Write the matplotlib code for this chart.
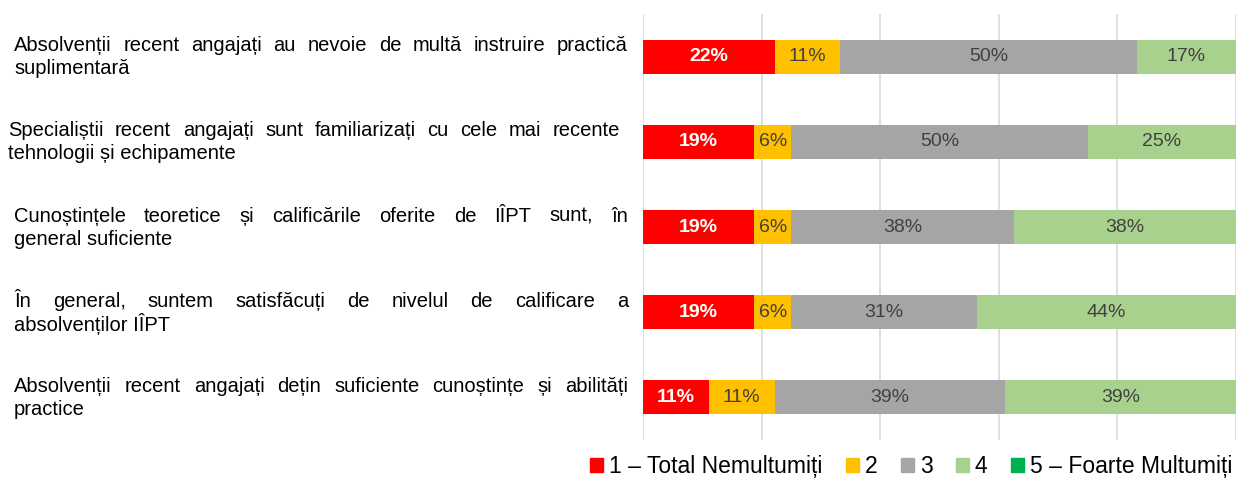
import matplotlib.pyplot as plt
from matplotlib.patches import Patch

plt.rcParams['font.family'] = ['Liberation Sans', 'DejaVu Sans']

# data (share of respondents per answer, %)
statements = [
    ["Absolvenții recent angajați au nevoie de multă instruire practică", "suplimentară"],
    ["Specialiștii recent angajați sunt familiarizați cu cele mai recente", "tehnologii și echipamente"],
    ["Cunoștințele teoretice și calificările oferite de IÎPT sunt, în", "general suficiente"],
    ["În general, suntem satisfăcuți de nivelul de calificare a", "absolvenților IÎPT"],
    ["Absolvenții recent angajați dețin suficiente cunoștințe și abilități", "practice"],
]
r1 = [22.2, 18.75, 18.75, 18.75, 11.1]
r2 = [11.1, 6.25, 6.25, 6.25, 11.1]
r3 = [50.0, 50.0, 37.5, 31.25, 38.9]
r4 = [16.7, 25.0, 37.5, 43.75, 38.9]
r5 = [0, 0, 0, 0, 0]
series = [r1, r2, r3, r4, r5]
names = ["1 – Total Nemultumiți", "2", "3", "4", "5 – Foarte Multumiți"]
colors = ["#FF0000", "#FFC000", "#A5A5A5", "#A9D18E", "#00B050"]

W, H = 1236, 486
fig = plt.figure(figsize=(W / 100, H / 100), dpi=100)
ax = fig.add_axes([643 / W, 1 - 440 / H, (W - 643) / W, 426 / H])

ypos = list(range(len(statements)))
left = [0] * len(statements)
for k, vals in enumerate(series):
    ax.barh(ypos, vals, left=left, height=0.4, color=colors[k], zorder=2)
    for i, v in enumerate(vals):
        if v > 0:
            if k == 0:
                ax.text(left[i] + v / 2, i, f"{v:.0f}%", ha='center', va='center',
                        color='white', fontweight='bold', fontsize=14, zorder=3)
            else:
                ax.text(left[i] + v / 2, i, f"{v:.0f}%", ha='center', va='center',
                        color='#404040', fontsize=14, zorder=3)
    left = [a + b for a, b in zip(left, vals)]

ax.set_xlim(0, 100)
ax.set_ylim(4.5, -0.5)
ax.set_xticks([0, 20, 40, 60, 80, 100])
ax.xaxis.grid(True, color='#D9D9D9', linewidth=1.2, zorder=0)
ax.tick_params(left=False, bottom=False, labelleft=False, labelbottom=False)
for s in ax.spines.values():
    s.set_visible(False)

# justified labels on the left
renderer = fig.canvas.get_renderer()
fs = 14.5
line_x = [(14, 628), (8, 620), (14, 628), (14, 628), (14, 628)]
centers = [57 + 85.25 * i for i in range(5)]
for i, lines in enumerate(statements):
    x0, x1 = line_x[i]
    for j, line in enumerate(lines):
        yc = centers[i] - 11.5 + 23 * j
        words = line.split()
        if j == 0 and len(words) > 1:
            arts = [fig.text(0, 1 - yc / H, w, fontsize=fs, va='center') for w in words]
            widths = [a.get_window_extent(renderer).width for a in arts]
            gap = (x1 - x0 - sum(widths)) / (len(words) - 1)
            x = x0
            for a, w in zip(arts, widths):
                a.set_x(x / W)
                x += w + gap
        else:
            fig.text(x0 / W, 1 - yc / H, line, fontsize=fs, va='center')

handles = [Patch(color=c) for c in colors]
fig.legend(handles, names, loc='lower right', bbox_to_anchor=(1.008, -0.012), ncol=5,
           frameon=False, fontsize=16.5, handlelength=0.55, handleheight=0.55,
           handletextpad=0.25, columnspacing=1.05, borderaxespad=0.2)

fig.savefig("out.png", dpi=100)
